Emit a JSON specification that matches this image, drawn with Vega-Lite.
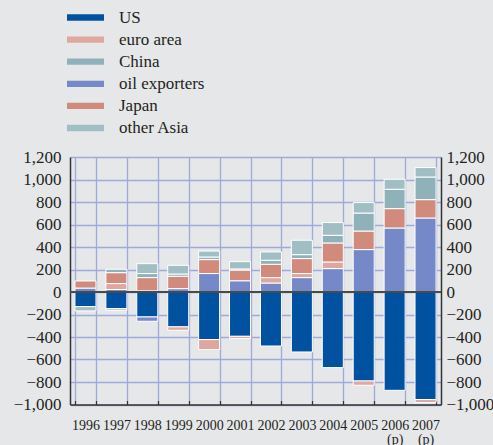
{
  "$schema": "https://vega.github.io/schema/vega-lite/v6.json",
  "width": 371,
  "height": 247.5,
  "autosize": {"type": "none"},
  "padding": {"left": 70, "top": 157, "right": 52, "bottom": 40.5},
  "background": "#e6e7e9",
  "config": {"view": {"stroke": null}, "font": "Liberation Serif"},
  "data": {
    "values": [
      {"year": "1996", "region": "US", "value": -130},
      {"year": "1996", "region": "oil exporters", "value": 35},
      {"year": "1996", "region": "Japan", "value": 63},
      {"year": "1996", "region": "other Asia", "value": -38},
      {"year": "1997", "region": "US", "value": -148},
      {"year": "1997", "region": "oil exporters", "value": 22},
      {"year": "1997", "region": "euro area", "value": 53},
      {"year": "1997", "region": "Japan", "value": 97},
      {"year": "1997", "region": "China", "value": 30},
      {"year": "1997", "region": "other Asia", "value": -15},
      {"year": "1998", "region": "US", "value": -222},
      {"year": "1998", "region": "oil exporters", "value": -38},
      {"year": "1998", "region": "euro area", "value": 10},
      {"year": "1998", "region": "Japan", "value": 118},
      {"year": "1998", "region": "China", "value": 36},
      {"year": "1998", "region": "other Asia", "value": 88},
      {"year": "1999", "region": "US", "value": -310},
      {"year": "1999", "region": "euro area", "value": -30},
      {"year": "1999", "region": "oil exporters", "value": 30},
      {"year": "1999", "region": "Japan", "value": 110},
      {"year": "1999", "region": "China", "value": 20},
      {"year": "1999", "region": "other Asia", "value": 77},
      {"year": "2000", "region": "US", "value": -423},
      {"year": "2000", "region": "euro area", "value": -89},
      {"year": "2000", "region": "oil exporters", "value": 164},
      {"year": "2000", "region": "Japan", "value": 124},
      {"year": "2000", "region": "China", "value": 23},
      {"year": "2000", "region": "other Asia", "value": 53},
      {"year": "2001", "region": "US", "value": -394},
      {"year": "2001", "region": "euro area", "value": -20},
      {"year": "2001", "region": "oil exporters", "value": 100},
      {"year": "2001", "region": "Japan", "value": 95},
      {"year": "2001", "region": "China", "value": 10},
      {"year": "2001", "region": "other Asia", "value": 65},
      {"year": "2002", "region": "US", "value": -480},
      {"year": "2002", "region": "oil exporters", "value": 80},
      {"year": "2002", "region": "euro area", "value": 48},
      {"year": "2002", "region": "Japan", "value": 118},
      {"year": "2002", "region": "China", "value": 36},
      {"year": "2002", "region": "other Asia", "value": 74},
      {"year": "2003", "region": "US", "value": -533},
      {"year": "2003", "region": "oil exporters", "value": 128},
      {"year": "2003", "region": "euro area", "value": 36},
      {"year": "2003", "region": "Japan", "value": 133},
      {"year": "2003", "region": "China", "value": 35},
      {"year": "2003", "region": "other Asia", "value": 128},
      {"year": "2004", "region": "US", "value": -672},
      {"year": "2004", "region": "oil exporters", "value": 208},
      {"year": "2004", "region": "euro area", "value": 59},
      {"year": "2004", "region": "Japan", "value": 169},
      {"year": "2004", "region": "China", "value": 68},
      {"year": "2004", "region": "other Asia", "value": 113},
      {"year": "2005", "region": "US", "value": -791},
      {"year": "2005", "region": "euro area", "value": -38},
      {"year": "2005", "region": "oil exporters", "value": 377},
      {"year": "2005", "region": "Japan", "value": 165},
      {"year": "2005", "region": "China", "value": 160},
      {"year": "2005", "region": "other Asia", "value": 93},
      {"year": "2006", "region": "US", "value": -874},
      {"year": "2006", "region": "oil exporters", "value": 569},
      {"year": "2006", "region": "Japan", "value": 172},
      {"year": "2006", "region": "China", "value": 172},
      {"year": "2006", "region": "other Asia", "value": 89},
      {"year": "2007", "region": "US", "value": -956},
      {"year": "2007", "region": "euro area", "value": -27},
      {"year": "2007", "region": "oil exporters", "value": 658},
      {"year": "2007", "region": "Japan", "value": 163},
      {"year": "2007", "region": "China", "value": 201},
      {"year": "2007", "region": "other Asia", "value": 84}
    ]
  },
  "transform": [
    {"calculate": "indexof(['US','oil exporters','euro area','Japan','China','other Asia'], datum.region)", "as": "stackOrder"}
  ],
  "layer": [
    {
      "mark": {"type": "bar", "stroke": "white", "strokeWidth": 1},
      "encoding": {
        "x": {
          "field": "year", "type": "ordinal",
          "scale": {"paddingInner": 0.32, "paddingOuter": 0.16},
          "axis": {
            "title": null, "labelAngle": 0, "tickBand": "extent",
            "grid": true, "gridColor": "#a0aad8", "gridWidth": 1.3,
            "ticks": true, "tickSize": -4, "tickColor": "#333333", "tickWidth": 1.2,
            "domainColor": "#333333", "domainWidth": 1.5,
            "labelFontSize": 14, "labelColor": "#231f20", "labelPadding": 18,
            "labelBaseline": "top", "labelLineHeight": 14,
            "labelExpr": "(datum.value == '2006' || datum.value == '2007') ? [datum.value, '(p)'] : datum.value"
          }
        },
        "y": {
          "field": "value", "type": "quantitative", "stack": "zero",
          "scale": {"domain": [-1000, 1200], "nice": false},
          "axis": {
            "title": null, "orient": "left", "values": [-1000, -800, -600, -400, -200, 0, 200, 400, 600, 800, 1000, 1200],
            "format": ",d", "grid": true, "gridColor": "#a0aad8", "gridWidth": 1.3,
            "ticks": false, "labelPadding": 9, "labelFontSize": 17, "labelColor": "#231f20",
            "domainColor": "#333333", "domainWidth": 1.5, "labelBound": false, "labelOverlap": false
          }
        },
        "color": {
          "field": "region", "type": "nominal",
          "scale": {
            "domain": ["US", "euro area", "China", "oil exporters", "Japan", "other Asia"],
            "range": ["#0052a1", "#e0a79f", "#8fb2ba", "#7589c8", "#d08b7c", "#a2bec5"]
          },
          "legend": {
            "title": null, "orient": "none", "legendX": -3, "legendY": -148,
            "symbolType": "M-1,-0.17H1V0.17H-1Z", "symbolSize": 1369,
            "symbolStrokeWidth": 0, "symbolOpacity": 1,
            "labelFont": "Liberation Serif", "labelFontSize": 17, "labelColor": "#231f20",
            "labelOffset": 15, "clipHeight": 17, "rowPadding": 4.1
          }
        },
        "order": {"field": "stackOrder", "type": "quantitative"}
      }
    },
    {
      "mark": {"type": "rule", "color": "#4a4a4a", "strokeWidth": 2},
      "encoding": {
        "y": {
          "datum": 0, "type": "quantitative",
          "axis": {
            "title": null, "orient": "right", "values": [-1000, -800, -600, -400, -200, 0, 200, 400, 600, 800, 1000, 1200],
            "format": ",d", "grid": false, "ticks": false, "labelPadding": 5, "labelFontSize": 17,
            "labelColor": "#231f20", "domainColor": "#333333", "domainWidth": 1.5,
            "labelBound": false, "labelOverlap": false
          }
        }
      }
    }
  ],
  "resolve": {"axis": {"y": "independent"}}
}
